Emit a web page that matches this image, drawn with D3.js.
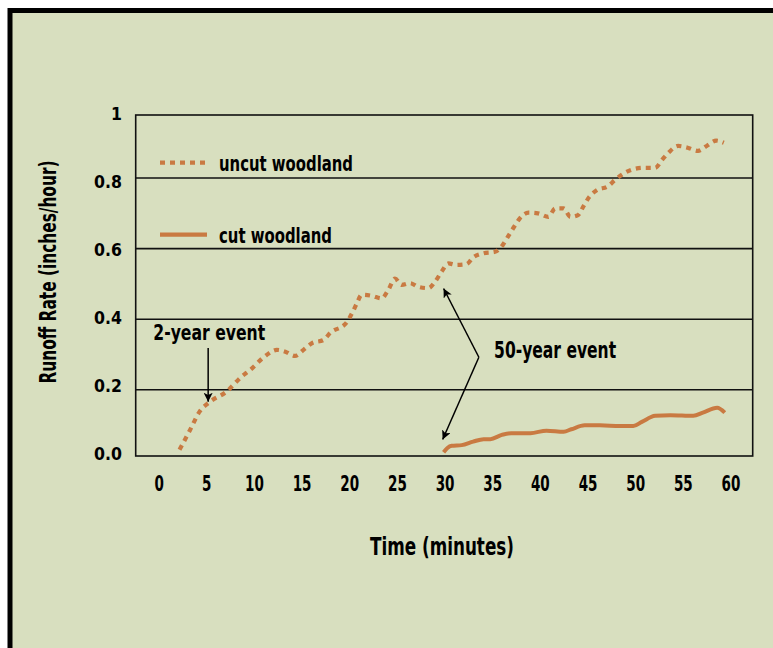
<!DOCTYPE html>
<html><head><meta charset="utf-8">
<script src="https://cdn.jsdelivr.net/npm/d3@7"></script>
<style>
html,body{margin:0;padding:0;background:#fff;}
svg{display:block;}
</style></head><body>
<svg id="chart" width="773" height="648"></svg>
<script>
// ---- data ----
const uncutTime = [2.2,3.3,4.3,5.4,7.1,8.7,9.6,11.3,12.4,13.3,14.3,15.2,16.1,17.3,18.0,19.7,20.3,20.8,21.3,22.4,23.4,24.1,24.8,25.5,26.4,27.2,28.3,29.0,29.7,30.4,31.2,32.3,33.0,34.1,35.3,36.1,36.7,37.3,37.9,38.8,39.8,40.9,41.6,42.5,43.2,44.0,44.6,45.2,46.0,47.1,47.9,48.8,49.8,50.9,52.1,52.8,53.5,54.5,55.5,56.6,57.5,58.5,59.3];
const uncutRate = [0.030,0.086,0.138,0.166,0.194,0.237,0.256,0.298,0.313,0.308,0.296,0.313,0.332,0.341,0.361,0.390,0.417,0.445,0.469,0.466,0.459,0.483,0.515,0.497,0.502,0.492,0.488,0.506,0.535,0.558,0.554,0.556,0.575,0.587,0.591,0.610,0.636,0.662,0.686,0.702,0.700,0.690,0.714,0.714,0.690,0.695,0.721,0.747,0.766,0.776,0.795,0.813,0.825,0.829,0.829,0.851,0.872,0.891,0.886,0.877,0.891,0.906,0.900];
const cutTime = [29.9,30.3,30.75,31.8,33.0,34.1,34.8,36.0,37.0,39.0,40.7,42.5,43.3,44.7,46.3,48.4,49.8,50.7,52.1,53.7,56.1,57.1,58.6,59.4];
const cutRate = [0.023,0.035,0.041,0.043,0.053,0.060,0.060,0.072,0.077,0.077,0.084,0.081,0.088,0.099,0.099,0.097,0.097,0.109,0.126,0.128,0.126,0.135,0.149,0.135];
const xTickValues = [0,5,10,15,20,25,30,35,40,45,50,55,60];
const yTickValues = [0,0.2,0.4,0.6,0.8,1];
const yTickLabels = ["0.0","0.2","0.4","0.6","0.8","1"];
const seriesNames = ["uncut woodland","cut woodland"];
const xTitle = "Time (minutes)";
const yTitle = "Runoff Rate (inches/hour)";
const note2 = "2-year event";
const note50 = "50-year event";

// ---- style ----
const BG = "#d8dfbf", ORANGE = "#c97a42", INK = "#111";
const NARROW = "'DejaVu Sans Condensed','DejaVu Sans',sans-serif";
const YTICKFONT = "'DejaVu Sans Condensed','DejaVu Sans',sans-serif";

function squeeze(sel, w){
  sel.attr("textLength", w).attr("lengthAdjust","spacingAndGlyphs");
  return sel;
}

const svg = d3.select("#chart");
svg.append("rect").attr("x",10).attr("y",10.5).attr("width",800).attr("height",700)
  .attr("fill",BG).attr("stroke","#000").attr("stroke-width",5);

const box = {left:135.7, right:752.7, top:115, bottom:456};
const x = d3.scaleLinear().domain([0,60]).range([158.6,730.5]);
const y = d3.scaleLinear().domain([0,1]).range([460.3,107.5]);
const yLab = d3.scaleLinear().domain([0,1]).range([453,113]);

// gridlines
svg.append("g").selectAll("line").data(yTickValues.filter(v=>v>0&&v<1)).join("line")
  .attr("x1",box.left).attr("x2",box.right)
  .attr("y1",d=>y(d)).attr("y2",d=>y(d))
  .attr("stroke",INK).attr("stroke-width",1.6);

// plot box
svg.append("rect").attr("x",box.left).attr("y",box.top)
  .attr("width",box.right-box.left).attr("height",box.bottom-box.top)
  .attr("fill","none").attr("stroke",INK).attr("stroke-width",1.6);

// y axis labels
const yAxis = d3.axisLeft(yLab).tickValues(yTickValues).tickSize(0)
  .tickFormat((d,i)=>yTickLabels[i]);
const gy = svg.append("g").attr("transform","translate(122,0)").call(yAxis);
gy.select(".domain").remove();
gy.selectAll("text").attr("x",0).attr("dy","0.36em")
  .attr("font-family",YTICKFONT).attr("font-weight","bold").attr("font-size",17.5).attr("fill","#000");

// x axis labels
const xAxis = d3.axisBottom(x).tickValues(xTickValues).tickSize(0);
const gx = svg.append("g").attr("transform","translate(0,472)").call(xAxis);
gx.select(".domain").remove();
gx.selectAll("text").attr("y",0).attr("dy","0.95em")
  .attr("font-family",NARROW).attr("font-weight","bold").attr("font-size",20.5).attr("fill","#000")
  .each(function(d){ squeeze(d3.select(this), String(d).length*9.4); });

// titles
squeeze(svg.append("text").attr("x",442).attr("y",555).attr("text-anchor","middle")
  .attr("font-family",NARROW).attr("font-weight","bold").attr("font-size",24.5).text(xTitle), 144);
squeeze(svg.append("text").attr("transform","translate(56,272) rotate(-90)").attr("text-anchor","middle")
  .attr("font-family",NARROW).attr("font-weight","bold").attr("font-size",22.5).text(yTitle), 223);

// lines
const uncut = uncutTime.map((t,i)=>[t,uncutRate[i]]);
const cut = cutTime.map((t,i)=>[t,cutRate[i]]);
const line = d3.line().x(d=>x(d[0])).y(d=>y(d[1])).curve(d3.curveMonotoneX);
svg.append("path").attr("d",line(uncut)).attr("fill","none").attr("stroke",ORANGE)
  .attr("stroke-width",4.2).attr("stroke-dasharray","5,5");
svg.append("path").attr("d",line(cut)).attr("fill","none").attr("stroke",ORANGE)
  .attr("stroke-width",4).attr("stroke-linejoin","round");

// legend
const leg = [{y:162.7, dash:"5,5", w:134},{y:234.7, dash:null, w:113}];
leg.forEach((l,i)=>{
  svg.append("line").attr("x1",160).attr("x2",207).attr("y1",l.y).attr("y2",l.y)
    .attr("stroke",ORANGE).attr("stroke-width",4.2).attr("stroke-dasharray",l.dash);
  squeeze(svg.append("text").attr("x",219).attr("y",l.y+8).attr("font-family",NARROW)
    .attr("font-weight","bold").attr("font-size",22).text(seriesNames[i]), l.w);
});

// annotations
const defs = svg.append("defs");
defs.append("marker").attr("id","ah").attr("viewBox","0 0 10 10").attr("refX",10).attr("refY",5)
  .attr("markerWidth",9).attr("markerHeight",9).attr("markerUnits","userSpaceOnUse").attr("orient","auto")
  .append("path").attr("d","M0,0 L10,5 L0,10 L2.5,5 Z").attr("fill","#000");

squeeze(svg.append("text").attr("x",x(-0.56)).attr("y",y(0.341)).attr("font-family",NARROW)
  .attr("font-weight","bold").attr("font-size",21.5).text(note2), 112);
svg.append("line").attr("x1",x(5.2)).attr("x2",x(5.2)).attr("y1",y(0.318)).attr("y2",y(0.166))
  .attr("stroke","#000").attr("stroke-width",1.5).attr("marker-end","url(#ah)");

squeeze(svg.append("text").attr("x",x(35.2)).attr("y",y(0.29)).attr("font-family",NARROW)
  .attr("font-weight","bold").attr("font-size",22.5).text(note50), 122);
const lg = d3.line().x(d=>x(d[0])).y(d=>y(d[1]));
svg.append("path").attr("d",lg([[33.6,0.292],[29.9,0.487]])).attr("fill","none")
  .attr("stroke","#000").attr("stroke-width",1.5).attr("marker-end","url(#ah)");
svg.append("path").attr("d",lg([[33.6,0.292],[29.8,0.059]])).attr("fill","none")
  .attr("stroke","#000").attr("stroke-width",1.5).attr("marker-end","url(#ah)");
</script>
</body></html>
